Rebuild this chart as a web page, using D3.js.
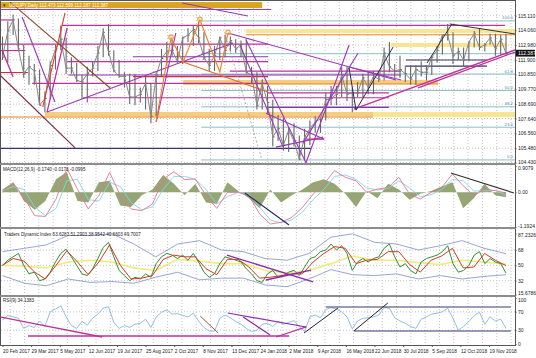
<!DOCTYPE html>
<html>
<head>
<meta charset="utf-8">
<script src="https://cdn.jsdelivr.net/npm/d3@7"></script>
<style>
  body { margin: 0; background: #fff; }
  svg { display: block; }
  text { font-family: "Liberation Sans", Arial, sans-serif; }
</style>
</head>
<body>
<div id="chart"></div>
<script>
// USDJPY daily, Feb 2017 - Dec 2018, one point per week
var weekHigh = [113.6,114.7,115.2,114.9,113.0,112.2,111.6,111.2,109.6,111.8,
  113.0,114.4,113.5,112.1,111.7,110.8,111.4,111.8,112.9,114.2,
  114.5,112.6,111.9,111.0,110.9,110.9,109.9,110.7,110.2,111.0,
  112.7,113.2,113.4,112.9,113.6,114.2,114.4,114.7,113.9,112.7,
  112.9,113.6,113.7,113.6,113.4,113.3,113.4,111.4,111.0,110.5,
  110.0,109.0,107.9,107.7,107.0,107.3,106.4,106.9,107.5,107.8,
  107.7,109.5,110.0,110.0,111.4,111.4,109.9,110.3,110.9,111.0,
  111.1,111.1,112.8,113.2,111.6,112.2,111.5,111.5,111.5,111.8,
  111.5,112.2,112.9,113.7,114.5,113.9,112.8,112.8,113.2,114.0,
  114.2,113.1,113.8,113.8,113.7,113.8];
var weekLow = [111.9,111.7,113.7,112.5,110.6,110.1,110.1,108.7,108.1,109.1,
  111.2,112.6,110.9,110.9,110.3,109.1,108.8,110.7,111.1,112.1,
  112.2,111.0,110.6,109.9,108.7,108.6,108.8,108.3,107.3,107.8,
  110.7,111.5,112.2,111.7,111.6,113.2,112.9,113.1,111.9,111.1,
  111.1,111.9,112.1,112.5,112.4,112.1,110.9,110.2,108.3,108.3,
  108.0,105.6,106.0,105.3,105.2,105.6,104.6,104.6,105.7,106.6,
  106.6,107.5,108.6,108.6,109.2,108.9,108.1,109.2,109.2,109.4,
  109.4,110.3,110.4,111.0,110.6,110.6,110.3,110.1,110.1,110.7,
  110.4,110.8,111.7,112.3,113.3,111.6,111.9,111.4,111.8,112.8,
  112.6,112.5,113.0,112.2,112.3,112.2];
var weekClose = [112.1,114.0,114.8,112.7,110.9,111.4,111.1,108.6,109.1,111.5,
  112.7,113.4,111.3,111.3,110.4,110.3,110.9,111.3,112.4,113.9,
  112.5,111.1,110.7,110.7,109.2,109.2,109.4,110.2,107.8,110.8,
  112.0,112.5,112.6,111.8,113.5,113.7,114.1,113.5,112.1,111.5,
  112.2,113.5,112.6,113.3,112.7,113.0,111.0,110.8,108.6,110.2,
  108.8,106.3,106.9,105.7,106.8,106.0,104.7,106.3,106.9,107.4,
  107.6,109.0,109.1,109.4,110.8,109.4,109.5,109.5,110.6,109.9,
  110.7,110.5,112.4,111.4,111.1,111.2,110.9,110.5,111.2,111.0,
  111.0,112.1,112.6,113.7,113.7,112.2,112.5,111.9,113.2,113.8,
  112.8,113.0,113.5,112.7,113.4,112.387];

var macdHist = [0.1,0.35,-0.3,-0.6,-0.3,0.45,0.7,-0.3,-0.35,0.35,
  0.4,-0.45,-0.5,-0.1,0.1,0.6,0.3,-0.1,0.3,-0.35,
  -0.4,0.35,0.05,-0.2,-0.55,0.1,-0.35,-0.1,0.1,0.35,
  0.45,0.3,-0.05,-0.5,0.05,-0.2,0.3,0.1,-0.25,-0.05,
  0.05,0.2,0.35,-0.55,-0.2,0.3,-0.1,-0.17];
var macdMain = [0.0,0.32,-0.17,-0.80,-0.83,-0.23,0.83,0.11,-0.57,-0.11,
  0.69,-0.11,-0.57,-0.63,-0.40,0.46,0.71,0.44,0.46,-0.11,
  -0.55,0.0,0.0,-0.11,-0.74,-1.09,-1.03,-0.86,-0.52,-0.06,
  0.29,0.75,0.52,0.40,0.0,0.11,0.17,0.52,-0.06,-0.23,
  0.0,0.17,0.63,0.23,-0.11,0.11,0.06,-0.02];
var macdSignal = [0.05,0.2,0.1,-0.5,-0.8,-0.55,0.4,0.45,-0.25,-0.3,
  0.35,0.2,-0.35,-0.6,-0.5,0.1,0.55,0.55,0.45,0.1,
  -0.4,-0.15,0.0,-0.05,-0.5,-0.95,-1.05,-0.95,-0.68,-0.25,
  0.1,0.55,0.6,0.45,0.15,0.08,0.14,0.4,0.15,-0.15,
  -0.08,0.1,0.45,0.4,0.05,0.05,0.07,-0.10];

var tdiPrice = [50,56,60,64,50,40,42,32,34,42,
  54,64,69,60,50,40,38,46,58,71,
  77,60,44,38,32,36,34,40,36,52,
  60,64,62,58,62,56,64,54,42,36,
  40,52,60,58,56,54,46,40,32,30,
  40,44,36,38,42,44,38,48,58,60,
  66,68,75,68,73,64,44,54,58,54,
  58,60,70,75,60,48,52,44,40,54,
  58,60,62,66,73,52,42,44,50,62,
  66,52,58,54,52,41];
var tdiSignal = [50,58,55,42,34,50,67,54,39,54,
  74,50,34,35,38,57,62,60,60,46,
  39,57,57,48,35,36,38,40,40,54,
  64,72,70,52,56,57,66,66,51,42,
  56,61,70,47,48,64,56,49.7];
var tdiBase = [50,49,47,54,56,54,47,44,57,55,52,52,44,41,44,52,61,56,56,53,51,56,54,51.3];
var tdiUpper = [66,70,74,85,85,87,75,60,75,79,68,66,58,56,64,83,87,77,75,68,73,79,70,63.6];
var tdiLower = [38,29,26,34,30,31,29,36,42,33,35,35,27,25,34,45,39,38,40,34,38,34,37,39];

var rsi9 = [52,62,59,56,34,40,36,50,38,70,
  76,83,59,40,34,49,41,56,65,78,
  81,47,34,40,36,43,45,54,36,59,
  69,74,65,66,62,59,67,50,36,28,
  28,56,63,57,49,43,34,27,30,43,
  45,38,49,43,47,51,38,27,59,63,
  57,75,79,76,70,59,33,50,56,57,
  59,63,79,78,57,50,45,38,34,54,
  59,65,67,70,78,56,30,38,49,62,
  69,43,59,50,54,34];

var dateLabels = ['20 Feb 2017','29 Mar 2017','5 May 2017','12 Jun 2017','19 Jul 2017',
  '25 Aug 2017','2 Oct 2017','8 Nov 2017','13 Dec 2017','24 Jan 2018','2 Mar 2018',
  '9 Apr 2018','16 May 2018','22 Jun 2018','30 Jul 2018','5 Sep 2018','12 Oct 2018','19 Nov 2018'];
var priceTicks = [115.110,114.060,112.980,111.900,110.850,109.770,108.690,107.640,106.560,105.480,104.430];
var macdTicks = [0.9079, 0, -1.1924];
var tdiTicks = [87.2326, 68, 50, 32, 15.6786];
var rsiTicks = [100, 70, 30, 0];

// fibonacci retracement (Nov 2017 high -> Mar 2018 low)
var fibPrices = [104.63,107.01,108.49,109.68,110.87,112.35,114.73];
var fibNames = ['0.0','23.6','38.2','50.0','61.8','','100.0'];
var fibStart = 37.5;

// drawn objects: horizontal levels [price, fromWeek, toWeek]
var magentaLevels = [[115.56,-0.5,50.7],[114.80,-0.5,2.0],[114.40,11.2,94.8],[113.05,-0.5,50.1],
  [112.58,-0.5,4.3],[111.78,12.2,50.1],[111.09,42.9,75.2],[110.20,5.6,50.1],[109.51,50.1,72.9],[109.15,15.2,72.9]];
var purpleLevels = [[112.13,24.6,50.1],[110.80,12.4,75.2],[108.45,50.1,72.9]];
var navyLevels = [[111.89,76.1,91.4],[111.45,76.1,91.4],[105.47,-0.5,58.2]];
var redLevels = [[110.98,-0.5,4.8],[110.68,24.6,50.1]];
var orangeLevels = [[113.73,45.9,96.7],[110.15,34.1,82.2],[107.75,-0.5,69.9]];
// rectangles [priceTop, priceBottom, fromWeek, toWeek]
var goldBoxes = [[116.10,115.67,-0.5,49.0]];
var yellowBoxes = [[114.14,113.85,45.9,96.7],[113.13,112.84,73.3,95.2],[108.11,107.75,69.9,96.7]];
var orangeBoxes = [[110.44,110.15,34.1,82.2],[108.11,107.80,8.0,69.9]];
// trend lines [week1, value1, week2, value2]
var magentaTrends = [[-0.1,112.62,2.0,110.65],[8.4,108.11,12.2,114.22],[66.3,108.32,96.7,112.62],
  [78.4,109.86,96.7,112.47],[57.3,106.14,60.7,106.14]];
var purpleTrends = [[3.7,115.02,9.9,108.84],[8.4,108.11,43.5,113.13],[29.0,107.39,32.7,113.85],
  [42.55,113.85,74.25,110.44],[45.94,113.37,57.26,104.43],[44.8,113.0,52.9,105.6],
  [57.26,104.43,65.4,112.98],[56.7,105.85,67.1,112.4],[49.7,108.03,60.7,106.14],
  [51.6,105.56,60.5,106.29],[33.9,116.03,46.3,115.09],[65.4,111.38,75.2,110.44]];
var brownTrends = [[1.4,116.11,20.3,109.86]];
var maroonTrends = [[-0.5,110.8,13.7,105.5]];
var redTrends = [[7.6,108.49,11.8,115.31]];
var orangeTrends = [[34.06,111.74,50.1,109.56]];
var navyTrends = [[65.4,111.31,66.7,108.25],[66.7,108.25,73.7,112.83]];
var blackTrends = [[84.4,114.51,96.7,113.78],[80.1,111.67,84.8,114.51]];
var dottedTrends = [[41.98,113.85,48.96,104.62]];
var orangeZigzag = [[28.96,107.39],[31.8,113.49],[34.06,111.74],[37.26,114.80],[41.0,111.02],[42.55,113.85]];
var orangeMarks = [[31.8,113.55],[37.26,114.85],[42.55,113.9]];

var macdNavyTrends = [[45.75,-0.02,54.06,-1.12]];
var macdBlackTrends = [[84.6,0.67,96.5,-0.02]];
var tdiPurpleTrends = [[42.36,62.1,58.6,30.5],[49.7,32.8,58.2,44.5]];
var rsiMagentaTrends = [[-0.47,58.7,18.8,15.2],[4.8,17.4,54.1,17.4],[51.6,15.2,57.3,37.0]];
var rsiBrownTrends = [[37.3,60.9,40.7,23.9]];
var rsiPurpleTrends = [[42.5,67.4,57.3,37.0],[45.4,58.7,50.5,19.6]];
var rsiBlackTrends = [[56.9,23.9,63.3,78.3],[66.3,28.3,72.7,89.1]];
var rsiNavyTrends = [[61.0,80.4,95.9,80.4],[66.3,28.3,95.9,28.3]];

var svgWidth = 536;
var svgHeight = 358;
var plotRight = 515;
var labelFont = '"Liberation Sans Narrow", "Liberation Sans", Arial, sans-serif';

var svg = d3.select('#chart')
    .append('svg')
    .attr('width', svgWidth)
    .attr('height', svgHeight);

var x = d3.scaleLinear().domain([0, 96.7]).range([2.5, plotRight]);
var priceY = d3.scaleLinear().domain([104.43, 115.11]).range([162.7, 15.7]);
var macdY = d3.scaleLinear().domain([-1.1924, 0.9079]).range([227, 166]);
var tdiY = d3.scaleLinear().domain([15.6786, 87.2326]).range([294.6, 233.6]);
var rsiY = d3.scaleLinear().domain([0, 100]).range([344, 298]);

// spread a series of n points over the 96 weeks
function weekOf(i, n) { return i * 95 / (n - 1); }

var panels = [
    {id: 'main', top: 2, bottom: 163},
    {id: 'macd', top: 165, bottom: 227},
    {id: 'tdi', top: 229, bottom: 295},
    {id: 'rsi', top: 297, bottom: 345}
];

var defs = svg.append('defs');
panels.forEach(function(p) {
    defs.append('clipPath').attr('id', 'clip-' + p.id)
        .append('rect')
        .attr('x', 1).attr('y', p.top)
        .attr('width', plotRight - 1).attr('height', p.bottom - p.top);
});

var groups = {};
panels.forEach(function(p) {
    groups[p.id] = svg.append('g').attr('clip-path', 'url(#clip-' + p.id + ')');
});

// vertical dotted grid
var gridWeeks = d3.range(1.45, 97, 2.7);
panels.forEach(function(p) {
    groups[p.id].selectAll('line.vgrid')
        .data(gridWeeks)
        .enter()
        .append('line')
        .attr('class', 'vgrid')
        .attr('x1', d => x(d)).attr('x2', d => x(d))
        .attr('y1', p.top).attr('y2', p.bottom)
        .attr('stroke', '#c4c4c4')
        .attr('stroke-dasharray', '1,2');
});

function hGrid(g, values, scale) {
    g.selectAll('line.hgrid')
        .data(values)
        .enter()
        .append('line')
        .attr('class', 'hgrid')
        .attr('x1', 1).attr('x2', plotRight)
        .attr('y1', d => scale(d)).attr('y2', d => scale(d))
        .attr('stroke', '#c4c4c4')
        .attr('stroke-dasharray', '1,2');
}
hGrid(groups.main, priceTicks, priceY);
hGrid(groups.tdi, [68, 50, 32], tdiY);
hGrid(groups.rsi, [70, 30], rsiY);

// ---- main panel drawings ----
var main = groups.main;

function boxes(g, data, color) {
    g.selectAll(null)
        .data(data)
        .enter()
        .append('rect')
        .attr('x', d => x(d[2]))
        .attr('width', d => x(d[3]) - x(d[2]))
        .attr('y', d => priceY(d[0]))
        .attr('height', d => priceY(d[1]) - priceY(d[0]))
        .attr('fill', color);
}
boxes(main, orangeBoxes, '#f5cd7c');
boxes(main, yellowBoxes, '#f7e592');
boxes(main, goldBoxes, '#d9a41e');

function levels(g, data, color, width) {
    g.selectAll(null)
        .data(data)
        .enter()
        .append('line')
        .attr('x1', d => x(d[1])).attr('x2', d => x(d[2]))
        .attr('y1', d => priceY(d[0])).attr('y2', d => priceY(d[0]))
        .attr('stroke', color)
        .attr('stroke-width', width);
}

// fibonacci levels
main.selectAll('line.fib')
    .data(fibPrices)
    .enter()
    .append('line')
    .attr('class', 'fib')
    .attr('x1', x(fibStart)).attr('x2', plotRight)
    .attr('y1', d => priceY(d)).attr('y2', d => priceY(d))
    .attr('stroke', '#8dbdc6')
    .attr('stroke-width', 1);
main.selectAll('text.fib')
    .data(fibPrices)
    .enter()
    .append('text')
    .attr('class', 'fib')
    .attr('x', plotRight - 2)
    .attr('y', d => priceY(d) - 1.5)
    .attr('text-anchor', 'end')
    .attr('font-size', 4.4)
    .attr('fill', '#5d8fa8')
    .text((d, i) => fibNames[i]);

levels(main, orangeLevels, '#e8841c', 1.1);
levels(main, redLevels, '#c83040', 1.1);
levels(main, purpleLevels, '#9030b0', 1.1);
levels(main, magentaLevels, '#c0309a', 1.2);
levels(main, navyLevels, '#34346e', 1.2);

// price bars
main.selectAll('line.bar')
    .data(weekHigh)
    .enter()
    .append('line')
    .attr('class', 'bar')
    .attr('x1', (d, i) => x(i)).attr('x2', (d, i) => x(i))
    .attr('y1', d => priceY(d))
    .attr('y2', (d, i) => priceY(weekLow[i]))
    .attr('stroke', '#666')
    .attr('stroke-width', 1.1);
main.selectAll('line.tick')
    .data(weekClose)
    .enter()
    .append('line')
    .attr('class', 'tick')
    .attr('x1', (d, i) => x(i)).attr('x2', (d, i) => x(i) + 1.8)
    .attr('y1', d => priceY(d)).attr('y2', d => priceY(d))
    .attr('stroke', '#666')
    .attr('stroke-width', 1);
main.append('path')
    .datum(weekClose)
    .attr('d', d3.line().x((d, i) => x(i)).y(d => priceY(d)))
    .attr('fill', 'none')
    .attr('stroke', '#888')
    .attr('stroke-width', 1);

function trends(g, data, scale, color, width, dash) {
    g.selectAll(null)
        .data(data)
        .enter()
        .append('line')
        .attr('x1', d => x(d[0])).attr('y1', d => scale(d[1]))
        .attr('x2', d => x(d[2])).attr('y2', d => scale(d[3]))
        .attr('stroke', color)
        .attr('stroke-width', width)
        .attr('stroke-dasharray', dash || null);
}
trends(main, dottedTrends, priceY, '#999', 0.8, '2,2');
trends(main, brownTrends, priceY, '#8a4a2a', 1.1);
trends(main, maroonTrends, priceY, '#7a2848', 1.1);
trends(main, redTrends, priceY, '#e03a2a', 1.1);
trends(main, orangeTrends, priceY, '#e0702a', 1.1);
trends(main, purpleTrends, priceY, '#9a38b8', 1.1);
trends(main, magentaTrends, priceY, '#c0309a', 1.3);
trends(main, navyTrends, priceY, '#2a2a5a', 1);
trends(main, blackTrends, priceY, '#333', 1);

main.append('path')
    .datum(orangeZigzag)
    .attr('d', d3.line().x(d => x(d[0])).y(d => priceY(d[1])))
    .attr('fill', 'none')
    .attr('stroke', '#ef7d22')
    .attr('stroke-width', 1.1);
main.selectAll('circle.mark')
    .data(orangeMarks)
    .enter()
    .append('circle')
    .attr('class', 'mark')
    .attr('cx', d => x(d[0]))
    .attr('cy', d => priceY(d[1]))
    .attr('r', 2.2)
    .attr('fill', 'none')
    .attr('stroke', '#f0a040')
    .attr('stroke-width', 1.2);

// ---- MACD ----
var macd = groups.macd;
macd.append('path')
    .datum(macdHist)
    .attr('d', d3.area()
        .x((d, i) => x(weekOf(i, macdHist.length)))
        .y0(macdY(0))
        .y1(d => macdY(d)))
    .attr('fill', '#95a574');
function series(g, data, scale, color, width) {
    g.append('path')
        .datum(data)
        .attr('d', d3.line()
            .x((d, i) => x(weekOf(i, data.length)))
            .y(d => scale(d)))
        .attr('fill', 'none')
        .attr('stroke', color)
        .attr('stroke-width', width);
}
series(macd, macdSignal, macdY, '#86d2e6', 0.9);
series(macd, macdMain, macdY, '#e0788e', 0.9);
trends(macd, macdNavyTrends, macdY, '#2a2a6a', 1.2);
trends(macd, macdBlackTrends, macdY, '#333', 1.1);

// ---- Traders Dynamic Index ----
var tdi = groups.tdi;
series(tdi, tdiUpper, tdiY, '#7f8fc6', 0.8);
series(tdi, tdiLower, tdiY, '#7f8fc6', 0.8);
series(tdi, tdiBase, tdiY, '#f3ea7a', 1.6);
series(tdi, tdiPrice, tdiY, '#2f8f2f', 1);
series(tdi, tdiSignal, tdiY, '#d23a22', 1);
trends(tdi, tdiPurpleTrends, tdiY, '#8a2ab0', 1.3);

// ---- RSI ----
var rsi = groups.rsi;
series(rsi, rsi9, rsiY, '#84b8de', 0.9);
trends(rsi, rsiMagentaTrends, rsiY, '#c0309a', 1.3);
trends(rsi, rsiBrownTrends, rsiY, '#9a5a3a', 1);
trends(rsi, rsiPurpleTrends, rsiY, '#8a2ab0', 1.2);
trends(rsi, rsiBlackTrends, rsiY, '#222', 1);
trends(rsi, rsiNavyTrends, rsiY, '#3a3a70', 1.1);

// ---- frame, separators ----
svg.append('rect')
    .attr('x', 0.5).attr('y', 0.5)
    .attr('width', plotRight).attr('height', 345)
    .attr('fill', 'none')
    .attr('stroke', '#555');
[164, 228, 296].forEach(function(y) {
    svg.append('line')
        .attr('x1', 0).attr('x2', plotRight + 1)
        .attr('y1', y).attr('y2', y)
        .attr('stroke', '#8c8c8c')
        .attr('stroke-width', 2);
});

// ---- panel titles ----
svg.append('text').attr('x', 3).attr('y', 6.6).attr('font-size', 4.8).attr('fill', '#333').text('\u25BE');
svg.append('text').attr('x', 9).attr('y', 6.6).attr('font-size', 4.6).attr('fill', '#fff')
    .text('USDJPY,Daily 112.473 112.599 112.187 112.387');
svg.append('text').attr('x', 3).attr('y', 170.5).attr('font-size', 4.6).attr('fill', '#222')
    .text('MACD(12,26,9) -0.1740 -0.0173 -0.0995');
svg.append('text').attr('x', 4).attr('y', 236).attr('font-size', 4.6).attr('fill', '#222')
    .text('Traders Dynamic Index 63.6283 51.2903 38.9542 40.6603 49.7007');
svg.append('text').attr('x', 3).attr('y', 302).attr('font-size', 4.6).attr('fill', '#222')
    .text('RSI(9) 34.1383');

// ---- right axes ----
function rightAxis(scale, ticks, format, nudge) {
    var g = svg.append('g')
        .attr('transform', `translate(${plotRight}, 0)`)
        .call(d3.axisRight(scale).tickValues(ticks).tickSize(1.5).tickPadding(1.5).tickFormat(format));
    g.select('.domain').remove();
    g.selectAll('text')
        .attr('font-size', 5)
        .attr('fill', '#222')
        .attr('dy', (d, i) => (0.32 + (nudge ? nudge[i] : 0) / 5) + 'em')
        .style('font-family', labelFont);
    g.selectAll('line').attr('stroke', '#555');
    return g;
}
rightAxis(priceY, priceTicks, d3.format('.3f'), [0,0,0,0,0,0,0,0,0,0,-1.2]);
rightAxis(macdY, macdTicks, d => d === 0 ? '0.00' : String(d), [1.5,0,-1]);
rightAxis(tdiY, tdiTicks, d => String(d), [1.2,0,0,0,-1.6]);
rightAxis(rsiY, rsiTicks, d => String(d), [1.6,0,0,-0.5]);

// current price box
var lastPrice = weekClose[weekClose.length - 1];
svg.append('rect')
    .attr('x', plotRight + 1).attr('y', priceY(lastPrice) - 3.4)
    .attr('width', 19).attr('height', 6.8)
    .attr('fill', '#111');
svg.append('text')
    .attr('x', plotRight + 3).attr('y', priceY(lastPrice) + 1.7)
    .attr('font-size', 5)
    .attr('fill', '#fff')
    .style('font-family', labelFont)
    .text(d3.format('.3f')(lastPrice));

// ---- bottom date axis ----
var labelWeeks = dateLabels.map((d, i) => i * 5.4);
var xAxis = svg.append('g')
    .attr('transform', 'translate(0, 345)')
    .call(d3.axisBottom(x).tickValues(labelWeeks).tickSize(2).tickPadding(3)
        .tickFormat((d, i) => dateLabels[i]));
xAxis.select('.domain').remove();
xAxis.selectAll('line').attr('stroke', '#555');
xAxis.selectAll('text')
    .attr('text-anchor', 'start')
    .attr('font-size', 4.8)
    .attr('fill', '#222')
    .style('font-family', labelFont);
</script>
</body>
</html>
